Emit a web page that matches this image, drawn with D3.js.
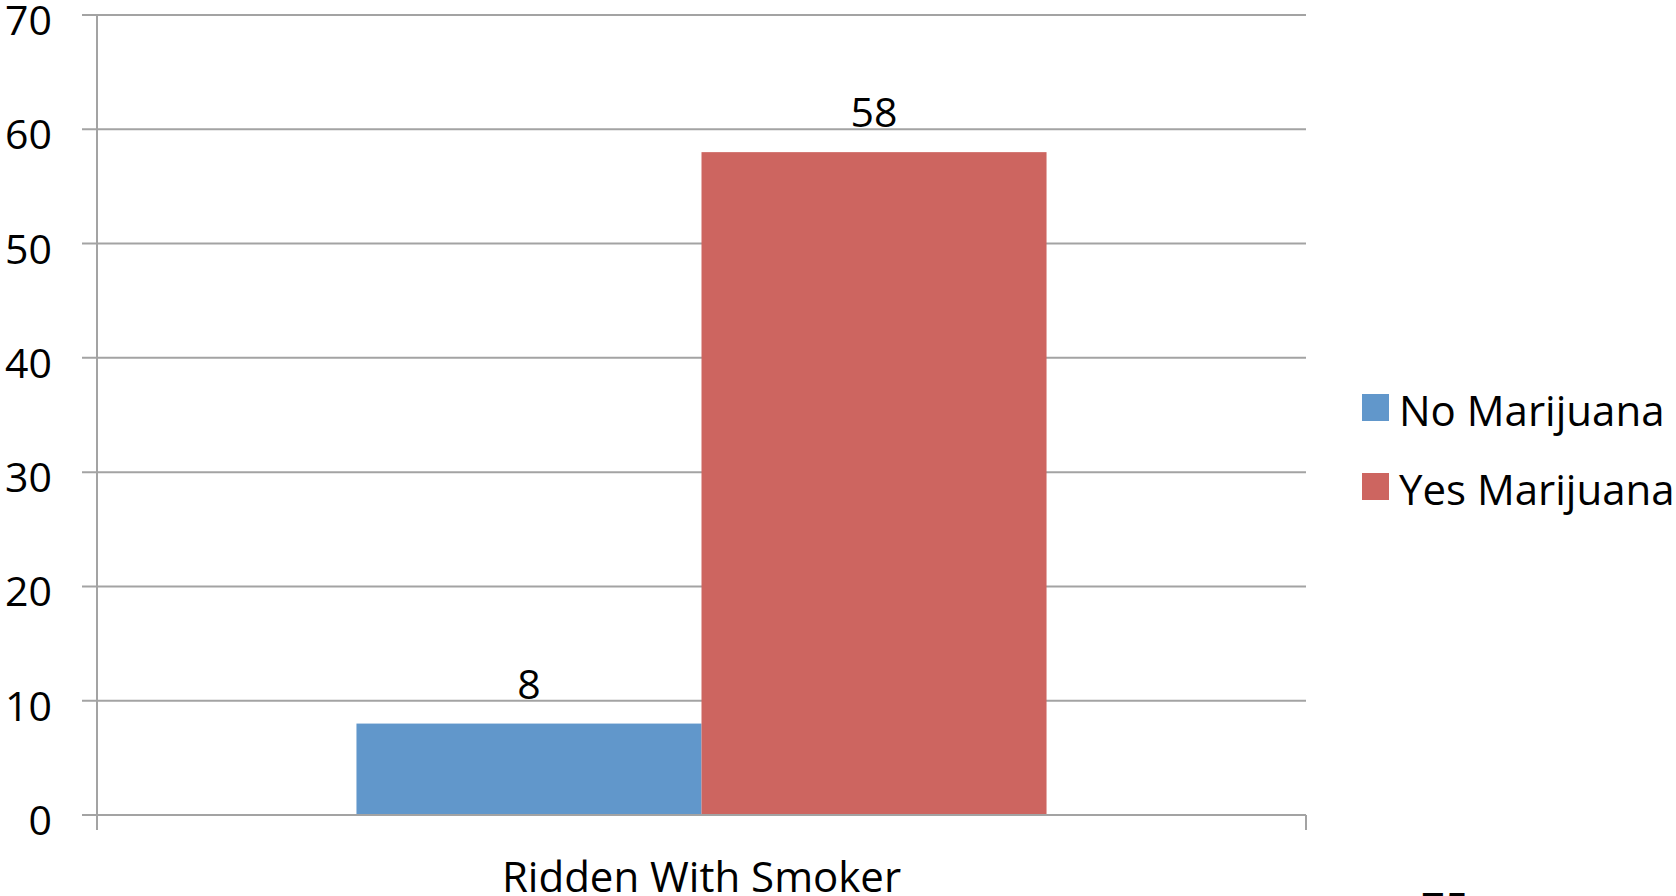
<!DOCTYPE html>
<html>
<head>
<meta charset="utf-8">
<script src="https://cdn.jsdelivr.net/npm/d3@7"></script>
<style>
  html, body { margin: 0; padding: 0; background: #fff; }
  svg { display: block; }
  text { font-family: "Open Sans", "Noto Sans", sans-serif; fill: #000; }
</style>
</head>
<body>
<svg id="chart" width="1676" height="896"></svg>
<script>
const categories = ["Ridden With Smoker"];
const seriesNames = ["No Marijuana", "Yes Marijuana"];
const seriesValues = [[8], [58]];
const seriesColors = ["#6197CB", "#CD6560"];
const yTicks = [0, 10, 20, 30, 40, 50, 60, 70];
const footerText = "75";

const svg = d3.select("#chart");
const plot = { left: 97, right: 1306, top: 15, bottom: 815 };
const gridColor = "#a3a3a3";
const fontSize = 41;
const bigFont = 42;

const y = d3.scaleLinear().domain([0, 70]).range([plot.bottom, plot.top]);
const x0 = d3.scaleBand().domain(categories).range([plot.left, plot.right]).padding(0);
const x1 = d3.scaleBand().domain(seriesNames).range([0, x0.bandwidth()])
  .paddingInner(0).paddingOuter(0.752);

// gridlines (including tick stubs left of axis)
svg.append("g").selectAll("line").data(yTicks).join("line")
  .attr("x1", plot.left - 15).attr("x2", plot.right)
  .attr("y1", d => y(d)).attr("y2", d => y(d))
  .attr("stroke", gridColor).attr("stroke-width", 2);

// y tick labels
svg.append("g").selectAll("text").data(yTicks).join("text")
  .attr("x", 52).attr("y", d => y(d) + 20)
  .attr("text-anchor", "end")
  .attr("font-size", fontSize)
  .text(d => d);

// bars
const groups = svg.append("g").selectAll("g").data(categories).join("g")
  .attr("transform", d => `translate(${x0(d)},0)`);
seriesNames.forEach((s, si) => {
  groups.append("rect")
    .attr("x", x1(s))
    .attr("width", x1.bandwidth())
    .attr("y", (d, ci) => y(seriesValues[si][categories.indexOf(d)]))
    .attr("height", d => plot.bottom - y(seriesValues[si][categories.indexOf(d)]))
    .attr("fill", seriesColors[si]);
  groups.append("text")
    .attr("x", x1(s) + x1.bandwidth() / 2)
    .attr("y", d => y(seriesValues[si][categories.indexOf(d)]) - 25)
    .attr("text-anchor", "middle")
    .attr("font-size", fontSize)
    .text(d => seriesValues[si][categories.indexOf(d)]);
});

// axes lines
svg.append("line")
  .attr("x1", plot.left).attr("x2", plot.left)
  .attr("y1", plot.top - 1).attr("y2", plot.bottom + 15)
  .attr("stroke", gridColor).attr("stroke-width", 2);
svg.append("line")
  .attr("x1", plot.left).attr("x2", plot.right)
  .attr("y1", plot.bottom).attr("y2", plot.bottom)
  .attr("stroke", gridColor).attr("stroke-width", 2);
// category boundary ticks
const boundaries = [plot.left, ...categories.map(c => x0(c) + x0.bandwidth())];
svg.append("g").selectAll("line").data(boundaries).join("line")
  .attr("x1", d => d).attr("x2", d => d)
  .attr("y1", plot.bottom).attr("y2", plot.bottom + 15)
  .attr("stroke", gridColor).attr("stroke-width", 2);

// category labels
svg.append("g").selectAll("text").data(categories).join("text")
  .attr("x", d => x0(d) + x0.bandwidth() / 2)
  .attr("y", 892)
  .attr("text-anchor", "middle")
  .attr("font-size", bigFont)
  .text(d => d);

// legend
const legend = svg.append("g").selectAll("g").data(seriesNames).join("g")
  .attr("transform", (d, i) => `translate(1362,${394 + i * 79})`);
legend.append("rect")
  .attr("width", 27).attr("height", 27)
  .attr("fill", (d, i) => seriesColors[i]);
legend.append("text")
  .attr("x", 37).attr("y", 32)
  .attr("font-size", bigFont)
  .text(d => d);

// cut-off footer text at the bottom edge
svg.append("text")
  .attr("x", 1421).attr("y", 923)
  .attr("font-size", bigFont)
  .text(footerText);
</script>
</body>
</html>
